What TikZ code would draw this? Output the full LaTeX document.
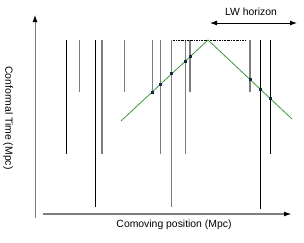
\documentclass[tikz,border=0pt]{standalone}
\usepackage{fontspec}
\setmainfont{Liberation Sans}
\usetikzlibrary{arrows.meta}
\definecolor{axisgray}{RGB}{125,125,125}
\definecolor{conegreen}{RGB}{60,150,60}
\definecolor{dotblue}{RGB}{20,40,70}
\begin{document}
\begin{tikzpicture}[x=1pt,y=-1pt,line width=0.9pt,
  font=\fontsize{10.4}{12}\selectfont,
  thinblack/.style={black,line width=0.9pt},
  thingray/.style={axisgray,line width=0.9pt},
  thickgray/.style={axisgray,line width=2pt}]
  \useasboundingbox (0,0) rectangle (304,242);
  % axes
  \draw[axisgray,line width=0.9pt,-{Latex[black,length=7pt,width=5pt]}] (35,218) -- (35,15);
  \draw[axisgray,line width=2pt,-{Latex[black,length=8pt,width=5pt]}] (43,214) -- (292,214);
  \node (ylab) at (8,118) [rotate=-90] {Conformal Time (Mpc)};
  \node (xlab) at (174,225) {Comoving position (Mpc)};
  % horizon width arrow and label
  \node (lw) at (251,12) {LW horizon};
  \coordinate (hl) at (210,23);
  \coordinate (hr) at (297,23);
  \draw[black,line width=0.9pt,{Latex[length=7pt,width=5pt]}-{Latex[length=7pt,width=5pt]}] (hl) -- (hr);
  % vertical world lines
  \foreach \x/\b in {66.7/154, 95/207, 260.7/209, 270/154}
    \draw[thinblack] (\x,40) -- (\x,\b);
  \foreach \x/\b in {79/92, 124/92, 152/91, 160.7/154, 171.7/207, 185.3/154}
    \draw[thingray] (\x,40) -- (\x,\b);
  \foreach \x/\b in {102/154, 190/92, 250/92}
    \draw[thickgray] (\x,40) -- (\x,\b);
  % dotted top line
  \draw[black,line width=0.7pt,dash pattern=on 2pt off 1pt on 0.6pt off 1pt] (173,40) -- (246,40);
  % light cone
  \coordinate (cl) at (121,121);
  \coordinate (peak) at (208,40);
  \coordinate (cr) at (292,119);
  \draw[conegreen,line width=0.8pt] (cl) -- (peak) -- (cr);
  % crossing points
  \foreach \x in {152,160.7,171.7,185.3,190}
    \fill[dotblue] (intersection of cl--peak and \x,0--\x,240) ++(-1.5,-1.5) rectangle ++(3,3);
  \foreach \x in {250,260.7,270}
    \fill[dotblue] (intersection of peak--cr and \x,0--\x,240) ++(-1.5,-1.5) rectangle ++(3,3);
\end{tikzpicture}
\end{document}
